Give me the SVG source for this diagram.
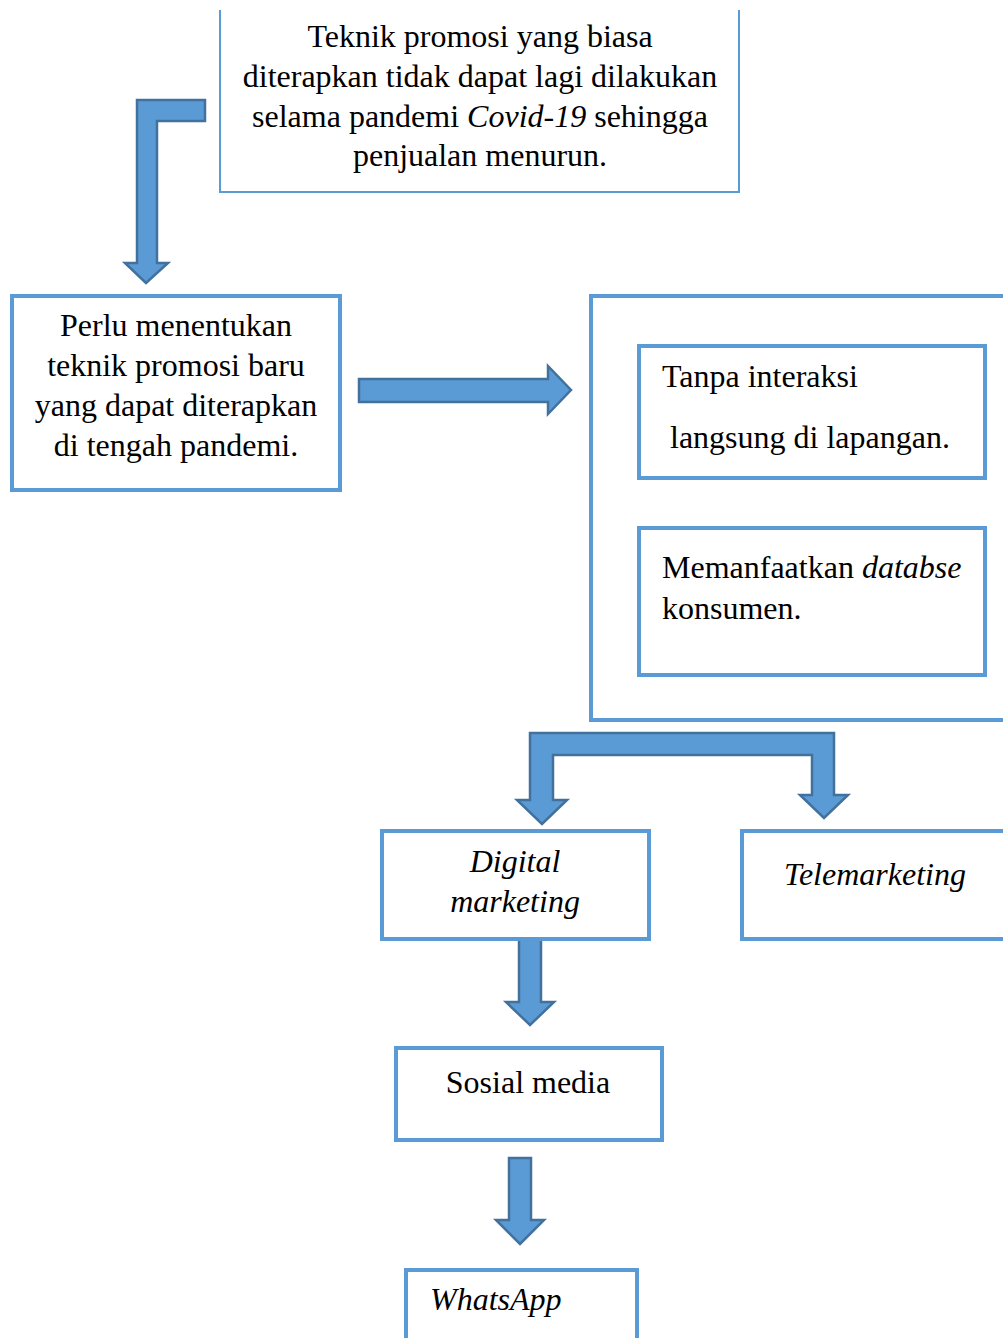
<svg xmlns="http://www.w3.org/2000/svg" width="1003" height="1338" viewBox="0 0 1003 1338">
<style>
.box{fill:#fff;stroke:#5b9bd5;stroke-width:4}
.thin{fill:none;stroke:#5b9bd5;stroke-width:2}
.arr{fill:#5b9bd5;stroke:#41719c;stroke-width:2.5;stroke-linejoin:miter}
text{font-family:"Liberation Serif","Times New Roman",serif;font-size:32px;fill:#000}
.c{text-anchor:middle}
.i{font-style:italic}
</style>
<rect width="1003" height="1338" fill="#fff"/>
<g id="connectors">
<path class="arr" d="M205,100 H137 V263 H125 L146,283 L168,263 H157 V121 H205 Z"/>
<path class="arr" d="M359,379 H548 V366 L571,390 L548,414 V402 H359 Z"/>
<path class="arr" d="M530,733 H834 V795 H848 L824,818 L800,795 H812 V755 H553 V800 H567 L542,824 L517,800 H530 Z"/>
<path class="arr" d="M519,939 H541 V1002 H554 L530,1025 L506,1002 H519 Z"/>
<path class="arr" d="M509,1158 H531 V1220 H544 L520,1244 L496,1220 H509 Z"/>
</g>
<g id="node-top">
<path class="thin" d="M220,10 V192 H739 V10"/>
<text class="c" x="480" y="47">Teknik promosi yang biasa</text>
<text class="c" x="480" y="87">diterapkan tidak dapat lagi dilakukan</text>
<text class="c" x="480" y="127">selama pandemi <tspan class="i">Covid-19</tspan> sehingga</text>
<text class="c" x="480" y="166">penjualan menurun.</text>
</g>
<g id="node-perlu">
<rect class="box" x="12" y="296" width="328" height="194"/>
<text class="c" x="176" y="336">Perlu menentukan</text>
<text class="c" x="176" y="376">teknik promosi baru</text>
<text class="c" x="176" y="416">yang dapat diterapkan</text>
<text class="c" x="176" y="456">di tengah pandemi.</text>
</g>
<g id="node-container">
<rect class="box" x="591" y="296" width="440" height="424"/>
</g>
<g id="node-tanpa">
<rect class="box" x="639" y="346" width="346" height="132"/>
<text x="662" y="387">Tanpa interaksi</text>
<text x="670" y="448">langsung di lapangan.</text>
</g>
<g id="node-memanfaatkan">
<rect class="box" x="639" y="528" width="346" height="147"/>
<text x="662" y="578">Memanfaatkan <tspan class="i">databse</tspan></text>
<text x="662" y="619">konsumen.</text>
</g>
<g id="node-digital">
<rect class="box" x="382" y="831" width="267" height="108"/>
<text class="c i" x="515" y="872">Digital</text>
<text class="c i" x="515" y="912">marketing</text>
</g>
<g id="node-telemarketing">
<rect class="box" x="742" y="831" width="290" height="108"/>
<text class="c i" x="875" y="885">Telemarketing</text>
</g>
<g id="node-sosial">
<rect class="box" x="396" y="1048" width="266" height="92"/>
<text class="c" x="528" y="1093">Sosial media</text>
</g>
<g id="node-whatsapp">
<rect class="box" x="406" y="1270" width="231" height="90"/>
<text class="i" x="430" y="1310">WhatsApp</text>
</g>
</svg>
